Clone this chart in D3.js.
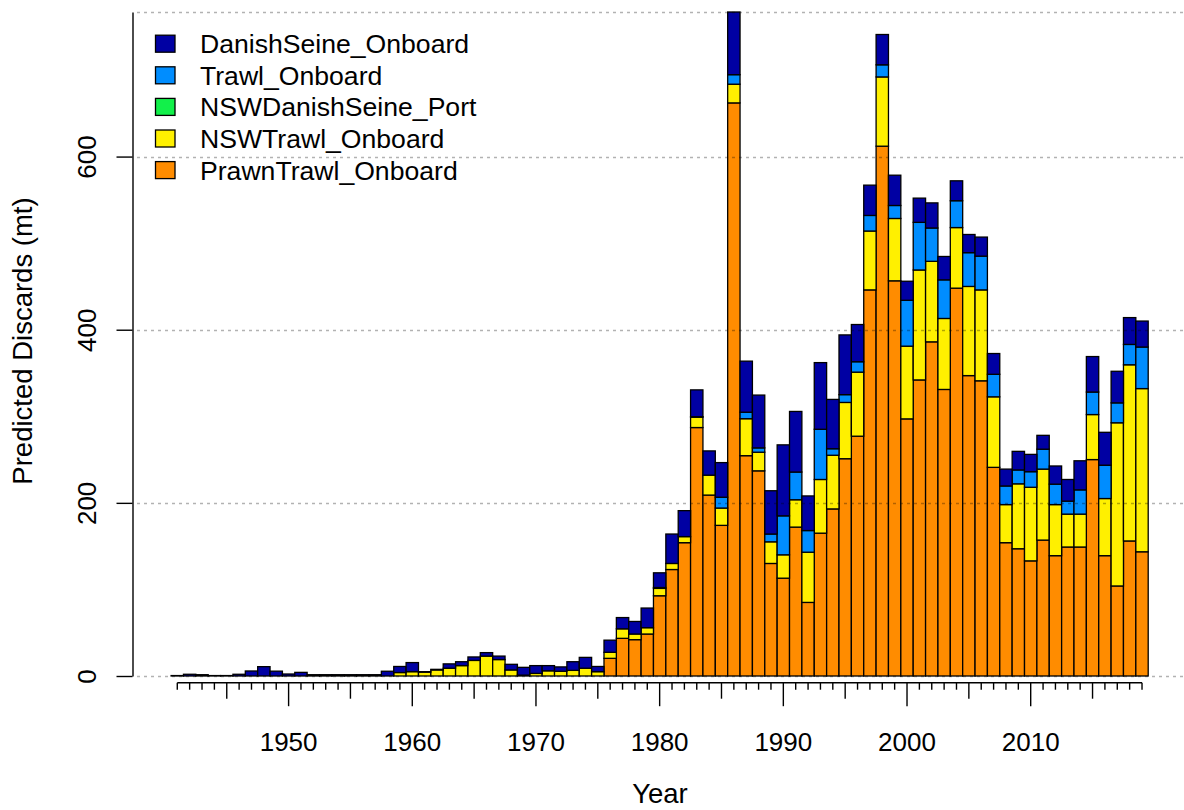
<!DOCTYPE html>
<html>
<head>
<meta charset="utf-8">
<script src="https://cdn.jsdelivr.net/npm/d3@7"></script>
<style>
  html, body { margin: 0; padding: 0; background: #fff; }
  svg { display: block; }
  text { font-family: "Liberation Sans", Arial, sans-serif; fill: #000; }
</style>
</head>
<body>
<svg id="chart" width="1184" height="810"></svg>
<script>
// ---------------- DATA ----------------
const years = d3.range(1941, 2020);

const seriesNames = ["PrawnTrawl_Onboard", "NSWTrawl_Onboard", "NSWDanishSeine_Port", "Trawl_Onboard", "DanishSeine_Onboard"];
const seriesColors = ["#FF8C00", "#FFF000", "#12F04A", "#008DFF", "#0000A3"];

// PrawnTrawl_Onboard (bottom, orange)
const prawnTrawl = [
  0,0,0,0,0,0,0,0,0,0,
  0,0,0,0,0,0,0,0,0,0,
  0,0,0,0,0,0,0,0,0,0,
  0,0,0,0,0,
  20.4,43.5,42,48.5,92.7,123,154,
  287,209,174,662,254.5,237,130,
  113,172,85,165,193,251,277,446,612,456.5,
  297,342,386,331,448,347,341,241,154,147,
  133,157,139,149,149,250,139,104,156,143.5
];

// NSWTrawl_Onboard (yellow)
const nswTrawl = [
  0,0,0,0,0,0,0,0,0,0,
  0,0,0,0,0,0,0,0,
  4,5,4.5,7,9,12,18,23,19,7,
  1,3,6,5.5,6.5,9,5,7,11,6.5,
  7.3,8.5,7,7,12,23,20,21.6,42.7,21.5,
  25,27,31.6,58,62,62,65,74,68,80,
  72,84,127,93,82,70,103,105,81.5,44,
  75,85,82,59,38,38,52,66,188.5,203.5,188.5
];

// NSWDanishSeine_Port (green) - not visible in any year
const nswDanishSeine = [
  0,0,0,0,0,0,0,0,0,0,
  0,0,0,0,0,0,0,0,0,0,
  0,0,0,0,0,0,0,0,0,0,
  0,0,0,0,0,0,0,0,0,0,
  0,0,0,0,0,0,0,0,0,0,
  0,0,0,0,0,0,0,0,0,0,
  0,0,0,0,0,0,0,0,0,0,
  0,0,0,0,0,0,0,0,0
];

// Trawl_Onboard (light blue)
const trawl = [
  0,0,0,0,0,0,0,0,0,0,
  0,0,0,0,0,0,0,0,0,0,
  0,0,0,0,0,0,0,0,0,0,
  0,0,0,0,0,0,0,0,0,
  1,0,0,0.5,0,12.5,11,7.5,5,9,
  45,32,25,58,7.5,9,12,18,14,15,
  53,55,38.5,44.6,31,39,39,26,21.5,16,
  18,23,23.6,15,28,26,38.5,23,23.5,48
];

// DanishSeine_Onboard (top, dark blue)
const danishSeine = [
  0.5,2,1.5,0.5,0.5,2,5.8,10.8,5.6,2.3,
  4.2,1.5,1.5,1.5,1.5,1.5,1.5,5.5,7,10.5,
  0.5,0.7,5,4.5,4,4,4,6.5,9,9,
  6,5,10,12.5,6,14,13,14.5,22.7,17,
  34,30,31,28,40,72.4,59,61,50,82,
  70,40,77,57,69,43,35,35,35,22,
  28,29,27,23,21,22,24,19.5,21.5,20,
  16,21,25,33.6,41,38,36.5,31,30
];

const yTicks = [0, 200, 400, 600];
const xLabelYears = [1950, 1960, 1970, 1980, 1990, 2000, 2010];

// ---------------- BUILD ----------------
const seriesValues = [prawnTrawl, nswTrawl, nswDanishSeine, trawl, danishSeine];
const table = years.map((yr, i) => {
  const row = { year: yr };
  seriesNames.forEach((n, k) => row[n] = seriesValues[k][i]);
  return row;
});
const stacked = d3.stack().keys(seriesNames)(table);
const maxTotal = d3.max(table, r => d3.sum(seriesNames, n => r[n]));

const svg = d3.select("#chart");
const FONT = 26;
const TITLE_FONT = 27.5;
const LEGEND_FONT = 26.6;

const x = d3.scaleBand().domain(years).range([171.1, 1148.2]).padding(0);
const y = d3.scaleLinear().domain([0, maxTotal]).range([676, 12]);

// Bars
const gBars = svg.append("g");
stacked.forEach((layer, k) => {
  gBars.append("g")
    .selectAll("rect")
    .data(layer)
    .join("rect")
    .attr("x", d => x(d.data.year))
    .attr("width", x.bandwidth())
    .attr("y", d => y(d[1]))
    .attr("height", d => Math.max(0, y(d[0]) - y(d[1])))
    .attr("fill", seriesColors[k])
    .attr("stroke", "#000")
    .attr("stroke-width", 1.3);
});

// Grid lines (drawn over bars)
const gridVals = yTicks.concat([maxTotal]);
svg.append("g").selectAll("line")
  .data(gridVals)
  .join("line")
  .attr("x1", 137).attr("x2", 1184)
  .attr("y1", d => Math.round(y(d)) + 0.5)
  .attr("y2", d => Math.round(y(d)) + 0.5)
  .attr("stroke", "rgba(0,0,0,0.3)")
  .attr("stroke-width", 1.4)
  .attr("stroke-dasharray", "3,4");

// Y axis
const yAxis = svg.append("g")
  .attr("transform", "translate(132.5,0)")
  .call(d3.axisLeft(y).tickValues(yTicks).tickSize(16).tickSizeOuter(0).tickFormat(d3.format("d")));
yAxis.select(".domain").attr("stroke-width", 1.4);
yAxis.selectAll(".tick line").attr("stroke-width", 1.4);
yAxis.selectAll(".tick text")
  .attr("x", null).attr("dy", null)
  .attr("transform", "translate(-36.5,0) rotate(-90)")
  .attr("text-anchor", "middle")
  .style("font-size", FONT + "px")
  .style("font-family", "'Liberation Sans', Arial, sans-serif");

// X axis
const xAxisY = 682.7;
const xAxis = svg.append("g")
  .attr("transform", `translate(0,${xAxisY})`)
  .call(d3.axisBottom(x).tickValues(years).tickSizeOuter(0)
    .tickFormat(d => xLabelYears.includes(d) ? String(d) : ""));
xAxis.select(".domain").remove();
xAxis.append("line")
  .attr("x1", x(years[0]) + x.bandwidth() / 2)
  .attr("x2", x(years[years.length - 1]) + x.bandwidth() / 2)
  .attr("y1", 0).attr("y2", 0)
  .attr("stroke", "#000").attr("stroke-width", 1.4);
xAxis.selectAll(".tick line")
  .attr("y2", d => d % 10 === 0 ? 23.5 : (d % 5 === 0 ? 16 : 7))
  .attr("stroke-width", 1.4);
xAxis.selectAll(".tick text")
  .attr("y", 68.5).attr("dy", null)
  .style("font-size", FONT + "px")
  .style("font-family", "'Liberation Sans', Arial, sans-serif");

// Axis titles
svg.append("text")
  .attr("transform", "translate(32,341) rotate(-90)")
  .attr("text-anchor", "middle")
  .style("font-size", TITLE_FONT + "px")
  .text("Predicted Discards (mt)");
svg.append("text")
  .attr("x", 660).attr("y", 803)
  .attr("text-anchor", "middle")
  .style("font-size", TITLE_FONT + "px")
  .text("Year");

// Legend (top to bottom reversed stack order)
const legendOrder = d3.range(seriesNames.length).reverse();
const legend = svg.append("g");
legendOrder.forEach((k, i) => {
  const cy = 43.7 + i * 31.6;
  legend.append("rect")
    .attr("x", 155.5).attr("y", cy - 8.5)
    .attr("width", 19.5).attr("height", 17)
    .attr("fill", seriesColors[k])
    .attr("stroke", "#000").attr("stroke-width", 1.3);
  legend.append("text")
    .attr("x", 200).attr("y", cy + 9.5)
    .style("font-size", LEGEND_FONT + "px")
    .text(seriesNames[k]);
});
</script>
</body>
</html>
